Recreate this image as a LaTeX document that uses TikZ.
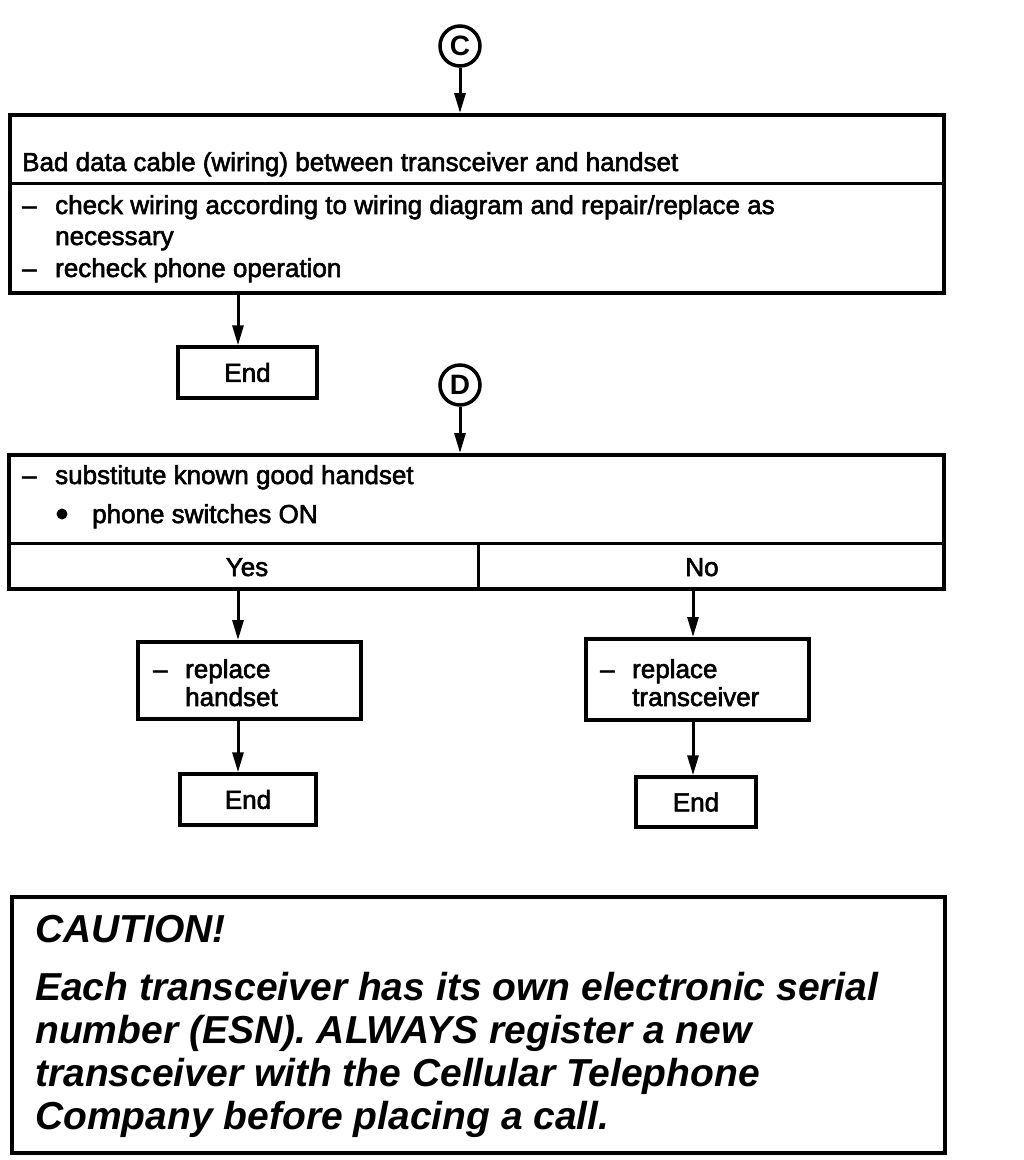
\documentclass[tikz,border=0pt]{standalone}
\usepackage{fontspec}
\setmainfont{Liberation Sans}
\newfontfamily\scanfont{Liberation Sans}[FakeBold=2.2]
\usetikzlibrary{arrows.meta}
\tikzset{
  box/.style={draw, line width=3.5pt, anchor=north west, inner sep=0pt},
  endbox/.style={draw, line width=3.5pt, inner sep=0pt, font=\scanfont\fontsize{26}{30}\selectfont},
  txt/.style={anchor=base west, inner sep=0pt, font=\scanfont\fontsize{26}{30}\selectfont},
  ctxt/.style={anchor=base, inner sep=0pt, font=\scanfont\fontsize{26}{30}\selectfont},
  conn/.style={circle, draw, line width=3.5pt, minimum size=40pt, inner sep=0pt, font=\bfseries\fontsize{28}{30}\selectfont},
  arr/.style={line width=3pt, -{Triangle[length=20pt,width=11pt]}},
  divider/.style={line width=3pt},
  ctext/.style={anchor=base west, inner sep=0pt, font=\bfseries\itshape\fontsize{39}{43}\selectfont}
}
\begin{document}
\begin{tikzpicture}[x=1pt,y=-1pt]
\useasboundingbox (0,0) rectangle (1024,1160);
\fill[white] (0,0) rectangle (1024,1160);

% --- C block
\node[conn] (C) at (460,46) {C};
\node[box, minimum width=934pt, minimum height=178pt] (b1) at (8,113) {};
\draw[divider] (b1.west |- 0,183) -- (b1.east |- 0,183);
\draw[arr] (C) -- (C |- b1.north);
\node[txt] (t1) at (22,171) {Bad data cable (wiring) between transceiver and handset};
\node[txt] (d1) at (22,214) {–};
\node[txt] (t2) at (55,214) {check wiring according to wiring diagram and repair/replace as};
\node[txt] (t3) at (55,245) {necessary};
\node[txt] (d2) at (22,277) {–};
\node[txt] (t4) at (55,277) {recheck phone operation};

\node[endbox, minimum width=139pt, minimum height=51pt] (e1) at (247.5,372.5) {End};
\coordinate (a1) at (238,291);
\draw[arr] (a1) -- (a1 |- e1.north);

% --- D block
\node[conn] (D) at (460,385) {D};
\node[box, minimum width=935pt, minimum height=134pt] (b2) at (7,453) {};
\draw[arr] (D) -- (D |- b2.north);
\draw[divider] (b2.west |- 0,543) -- (b2.east |- 0,543);
\coordinate (v1) at (478,543);
\draw[divider] (v1) -- (v1 |- b2.south);
\node[txt] (d3) at (22,484) {–};
\node[txt] (t5) at (55,484) {substitute known good handset};
\node[circle, fill, inner sep=0pt, minimum size=11pt] (bul) at (62,514) {};
\node[txt] (t6) at (92,523) {phone switches ON};
\node[ctxt] (yes) at (247,576) {Yes};
\node[ctxt] (no) at (702,576) {No};

% --- Yes branch
\node[box, minimum width=223pt, minimum height=77pt] (rh) at (136,640) {};
\node[txt] (d4) at (153,678) {–};
\node[txt] (t7) at (185,678) {replace};
\node[txt] (t8) at (185,706) {handset};
\coordinate (a2) at (238,587);
\draw[arr] (a2) -- (a2 |- rh.north);
\node[endbox, minimum width=136pt, minimum height=51pt] (e2) at (248,799.5) {End};
\coordinate (a3) at (238,717);
\draw[arr] (a3) -- (a3 |- e2.north);

% --- No branch
\node[box, minimum width=223pt, minimum height=81pt] (rt) at (584,637) {};
\node[txt] (d5) at (600,678) {–};
\node[txt] (t9) at (632,678) {replace};
\node[txt] (t10) at (632,706) {transceiver};
\coordinate (a4) at (693,587);
\draw[arr] (a4) -- (a4 |- rt.north);
\node[endbox, minimum width=120pt, minimum height=50pt] (e3) at (696,802) {End};
\coordinate (a5) at (693,718);
\draw[arr] (a5) -- (a5 |- e3.north);

% --- Caution
\node[box, line width=4pt, minimum width=933pt, minimum height=256pt] (cb) at (10,895) {};
\node[ctext] (ct) at (35,942) {CAUTION!};
\node[ctext] (c1) at (35,1000) {Each transceiver has its own electronic serial};
\node[ctext] (c2) at (35,1043) {number (ESN). ALWAYS register a new};
\node[ctext] (c3) at (35,1086) {transceiver with the Cellular Telephone};
\node[ctext] (c4) at (35,1129) {Company before placing a call.};
\end{tikzpicture}
\end{document}
